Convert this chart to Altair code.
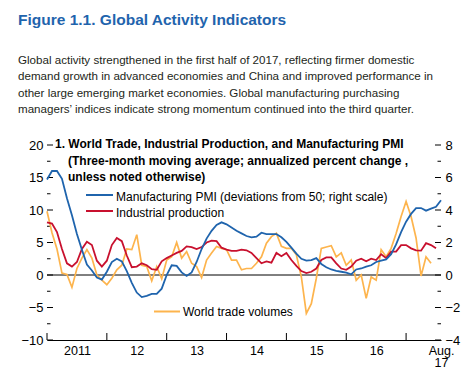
import altair as alt
import pandas as pd

# ---- data ----
# monthly, Jan 2011 = 0
trade = [9.8, 6.5, 4.0, 0.3, 0.1, -1.9, 1.0, 2.6, 3.9, 2.6,
         0.0, -0.8, -1.5, -0.5, 0.8, 1.5, 4.0, 3.9, 6.2, 1.5,
         1.3, -0.9, 1.3, -0.6, 2.3, 2.8, 5.0, 2.6, 3.6, 1.8,
         1.3, -0.4, 2.3, 3.4, 4.4, 4.1, 3.9, 2.3, 2.3, 0.8,
         1.0, 1.0, 1.8, 2.8, 4.9, 5.9, 6.4, 4.4, 4.1, 4.1,
         3.1, -0.3, -5.9, -4.4, -0.5, 4.1, 4.3, 4.5, 2.8, 3.4,
         1.5, 2.3, -0.8, 0.0, -3.6, -0.3, -0.8, 3.9, 2.8, 4.1,
         6.4, 9.0, 11.3, 9.0, 5.7, -0.15, 2.8, 1.8]
ip = [8.1, 7.9, 6.6, 4.0, 1.8, 1.3, 2.0, 4.0, 5.1, 4.6,
      2.2, 1.3, 2.2, 4.6, 5.7, 5.2, 3.0, 1.2, 1.3, 1.8,
      1.5, 0.9, 0.8, 2.1, 2.6, 3.0, 3.4, 3.7, 4.4, 4.3,
      4.0, 4.3, 5.0, 5.3, 5.2, 4.2, 3.9, 3.7, 3.7, 3.9,
      3.8, 3.4, 2.6, 1.8, 2.1, 1.9, 3.4, 2.9, 3.4, 2.3,
      1.4, 0.6, 0.3, 0.5, 1.0, 2.3, 2.7, 2.7, 1.8, 1.0,
      0.8, 1.3, 2.2, 2.5, 2.1, 2.5, 2.3, 3.2, 2.6, 3.6,
      3.6, 4.6, 4.6, 4.1, 3.8, 3.75, 4.9, 4.6, 4.1]
pmi = [5.88, 6.4, 6.4, 5.92, 4.72, 3.68, 2.52, 1.56, 0.64, 0.28,
       -0.16, -0.28, 0.2, 0.8, 1.0, 0.84, 0.24, -0.48, -1.08, -1.36,
       -1.28, -1.16, -1.16, -0.84, 0.0, 0.6, 0.56, 0.16, -0.06, 0.16,
       0.8, 1.6, 2.24, 2.72, 3.08, 3.24, 3.12, 2.92, 2.72, 2.56,
       2.4, 2.32, 2.36, 2.6, 2.52, 2.52, 2.52, 2.32, 2.04, 1.68,
       1.32, 1.0, 0.88, 0.92, 1.04, 0.68, 0.48, 0.34, 0.26, 0.2,
       0.14, 0.04, 0.34, 0.4, 0.52, 0.6, 0.8, 0.88, 0.96, 1.28,
       1.88, 2.64, 3.28, 3.76, 4.12, 4.12, 3.96, 4.08, 4.2, 4.6]

x_label_pos = [6, 18, 30, 42, 54, 66, 79]
x_labels = ["2011", "12", "13", "14", "15", "16", "Aug. 17"]
year_bounds = [0, 12, 24, 36, 48, 60, 72]
left_major = [-10, -5, 0, 5, 10, 15, 20]
left_minor = [-7.5, -2.5, 2.5, 7.5, 12.5, 17.5]
right_major = [-4, -2, 0, 2, 4, 6, 8]
right_minor = [-3, -1, 1, 3, 5, 7]

TITLE = "Figure 1.1.  Global Activity Indicators"
PARA = ["Global activity strengthened in the first half of 2017, reflecting firmer domestic",
        "demand growth in advanced economies and China and improved performance in",
        "other large emerging market economies. Global manufacturing purchasing",
        "managers\u2019 indices indicate strong momentum continued into the third quarter."]
PANEL = ["1. World Trade, Industrial Production, and Manufacturing PMI",
         "(Three-month moving average; annualized percent change ,",
         "unless noted otherwise)"]
LEG = ["Manufacturing PMI (deviations from 50; right scale)",
       "Industrial production", "World trade volumes"]

BLUE = "#1f64ad"
RED = "#c8102e"
ORANGE = "#fdb44d"
FONT = "Liberation Sans, Arial, sans-serif"
W, H = 394, 195

# ---- scales / axes ----
expr = "''"
for p, l in zip(x_label_pos, x_labels):
    expr = f"datum.value == {p} ? split('{l}', ' ') : ({expr})"

x_scale = alt.Scale(domain=[0, 79], nice=False, zero=False)
x_axis = alt.Axis(values=x_label_pos, labelExpr=expr, tickSize=0, domain=True,
                  domainColor="black", domainWidth=1, labelPadding=4, grid=False,
                  title=None, labelFont=FONT, labelFontSize=12.5, labelColor="black",
                  labelLineHeight=12.5, labelFlush=False, labelOverlap=False)
ly_scale = alt.Scale(domain=[-10, 20], nice=False, zero=False)
ly_axis = alt.Axis(values=left_major, tickSize=0, domain=False, grid=False, labelPadding=4,
                   title=None, labelFont=FONT, labelFontSize=13, labelColor="black")
ry_scale = alt.Scale(domain=[-4, 8], nice=False, zero=False)
ry_axis = alt.Axis(orient="right", values=right_major, tickSize=0, domain=False, grid=False,
                   labelPadding=4, title=None, labelFont=FONT, labelFontSize=13,
                   labelColor="black")

def X(f):
    return alt.X(f, scale=x_scale, axis=x_axis)

def LY(f):
    return alt.Y(f, scale=ly_scale, axis=ly_axis)

def RY(f):
    return alt.Y(f, scale=ry_scale, axis=ry_axis)

df_trade = pd.DataFrame({"m": list(range(len(trade))), "v": trade})
df_ip = pd.DataFrame({"m": list(range(len(ip))), "v": ip})
df_pmi = pd.DataFrame({"m": list(range(len(pmi))), "v": pmi})

zero = alt.Chart(pd.DataFrame({"v": [0]})).mark_rule(color="black", strokeWidth=1).encode(y=LY("v:Q"))
l_trade = alt.Chart(df_trade).mark_line(color=ORANGE, strokeWidth=1.7).encode(x=X("m:Q"), y=LY("v:Q"))
l_ip = alt.Chart(df_ip).mark_line(color=RED, strokeWidth=1.8).encode(x=X("m:Q"), y=LY("v:Q"))
l_pmi = alt.Chart(df_pmi).mark_line(color=BLUE, strokeWidth=1.8).encode(x=X("m:Q"), y=RY("v:Q"))

lt_major = alt.Chart(pd.DataFrame({"v": left_major})).mark_rule(color="black").encode(
    y=LY("v:Q"), x=alt.value(0), x2=alt.value(6))
lt_minor = alt.Chart(pd.DataFrame({"v": left_minor})).mark_rule(color="black").encode(
    y=LY("v:Q"), x=alt.value(0), x2=alt.value(3.5))
rt_major = alt.Chart(pd.DataFrame({"v": right_major})).mark_rule(color="black").encode(
    y=RY("v:Q"), x=alt.value(W - 6), x2=alt.value(W))
rt_minor = alt.Chart(pd.DataFrame({"v": right_minor})).mark_rule(color="black").encode(
    y=RY("v:Q"), x=alt.value(W - 3.5), x2=alt.value(W))
xt = alt.Chart(pd.DataFrame({"m": year_bounds})).mark_rule(color="black").encode(
    x=X("m:Q"), y=alt.value(H), y2=alt.value(H - 7))

def txt(s, x, y, size, bold=False, color="black"):
    return alt.Chart(pd.DataFrame({"t": [s]})).mark_text(
        align="left", baseline="alphabetic", font=FONT, fontSize=size,
        fontWeight="bold" if bold else "normal", color=color).encode(
        text="t:N", x=alt.value(x), y=alt.value(y))

texts = [txt(TITLE, -29, -120, 15.5, True, BLUE)]
for i, s in enumerate(PARA):
    texts.append(txt(s, -29, -81.5 + i * 16.5, 11.6, False, "#231f20"))
texts.append(txt(PANEL[0], 8, 3, 12, True))
texts.append(txt(PANEL[1], 21, 19.5, 12, True))
texts.append(txt(PANEL[2], 21, 36, 12, True))
texts.append(txt(LEG[0], 69, 56, 12))
texts.append(txt(LEG[1], 69, 72, 12))
texts.append(txt(LEG[2], 136, 171, 12))

leg_lines = [
    alt.Chart(pd.DataFrame({"a": [0]})).mark_rule(color=BLUE, strokeWidth=2).encode(
        x=alt.value(39), x2=alt.value(66), y=alt.value(50)),
    alt.Chart(pd.DataFrame({"a": [0]})).mark_rule(color=RED, strokeWidth=2).encode(
        x=alt.value(39), x2=alt.value(66), y=alt.value(66)),
    alt.Chart(pd.DataFrame({"a": [0]})).mark_rule(color=ORANGE, strokeWidth=2).encode(
        x=alt.value(107), x2=alt.value(133), y=alt.value(166.5)),
]

left = alt.layer(zero, lt_major, lt_minor, xt, l_trade, l_ip, *leg_lines, *texts)
right = alt.layer(rt_major, rt_minor, l_pmi)

chart = alt.layer(left, right).resolve_scale(y="independent").properties(
    width=W, height=H,
    padding={"left": 39, "top": 137, "right": 22, "bottom": 30},
    autosize=alt.AutoSizeParams(type="none"),
).configure_view(stroke=None)

chart.save("out.html", embed_options={"renderer": "svg", "actions": False})
